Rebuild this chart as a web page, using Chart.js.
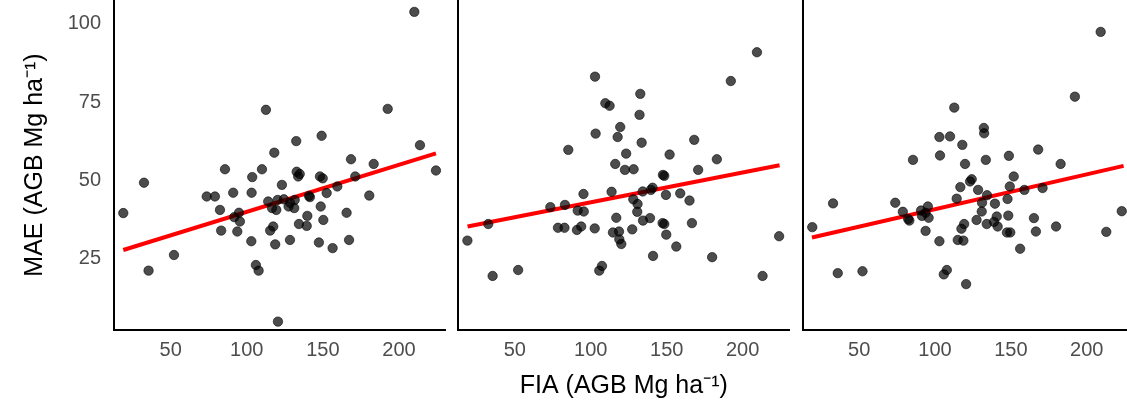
<!DOCTYPE html>
<html><head><meta charset="utf-8">
<script src="https://cdn.jsdelivr.net/npm/chart.js@4"></script>
<style>
html,body{margin:0;padding:0;background:#fff;overflow:hidden;width:1127px;height:406px;position:relative;}
canvas{position:absolute;top:0;}
</style></head><body>
<canvas id="c1" width="452" height="406" style="left:0px"></canvas>
<canvas id="c2" width="344" height="406" style="left:452px"></canvas>
<canvas id="c3" width="344" height="406" style="left:796px"></canvas>
<script>
const xTicks = [50, 100, 150, 200];
const yTicks = [25, 50, 75, 100];
const xTitle = 'FIA (AGB Mg ha\u207B\u00B9)';
const yTitle = 'MAE (AGB Mg ha\u207B\u00B9)';

const p1x = [18.9,32.5,35.5,52.2,73.7,79.1,82.4,85.7,83.2,91.1,91.8,94.9,95.5,93.8,103.2,103.6,103.0,110.0,112.6,106.0,107.8,114.1,118.1,115.4,117.4,116.6,119.4,120.3,118.7,120.5,123.1,124.4,127.5,128.4,131.5,131.2,128.4,132.5,132.8,134.8,133.8,134.3,139.4,139.8,140.9,141.5,147.4,148.6,149.2,148.1,149.9,150.3,152.5,156.4,159.5,165.6,167.2,168.5,171.3,180.5,183.4,192.6,210.1,213.8,224.3];
const p1y = [39.5,49.2,21.1,26.1,44.8,44.8,40.5,53.5,33.9,46.0,38.2,39.6,36.8,33.6,46.0,51.0,30.5,53.5,72.5,22.9,21.1,43.2,58.8,33.9,35.2,41.1,40.5,43.7,29.5,4.8,48.5,43.9,41.6,42.8,43.7,41.1,30.9,62.5,52.7,52.0,51.2,36.0,35.4,38.6,45.0,44.6,30.1,41.6,64.2,51.2,50.6,37.3,45.9,28.3,48.0,39.6,30.9,56.7,51.2,45.1,55.2,72.8,103.8,61.2,53.1];

const p2x = [18.8,32.5,35.4,52.2,73.4,78.4,82.7,83.0,85.2,90.9,93.7,91.4,95.4,95.2,102.6,102.8,103.2,105.6,107.4,109.6,112.4,113.7,114.6,116.1,116.8,117.7,118.6,118.8,120.1,119.4,122.5,123.3,127.3,128.0,128.2,130.8,130.6,132.1,132.6,133.5,134.2,134.4,139.0,139.6,140.7,141.0,147.5,148.4,147.3,148.4,149.7,149.5,151.9,156.3,158.9,165.0,166.6,168.1,170.7,179.9,183.0,192.2,209.4,213.1,224.0];
const p2y = [30.7,36.0,19.4,21.3,41.4,34.8,34.8,42.1,59.7,34.1,35.2,40.3,40.0,45.6,34.6,83.1,64.9,21.1,22.6,74.6,73.8,46.3,33.3,55.2,38.0,63.8,33.6,31.1,29.6,67.0,53.3,58.5,34.3,43.9,53.5,42.4,39.9,70.9,77.6,62.0,46.4,37.1,37.9,46.9,47.6,25.8,51.7,51.4,36.3,36.0,32.6,45.3,58.2,28.8,45.8,43.5,36.3,62.9,53.3,25.4,56.7,81.7,90.9,19.4,32.1];

const p3x = [19.1,32.8,35.9,52.2,73.8,78.8,82.3,83.1,85.5,90.8,91.4,93.8,95.3,95.8,93.8,102.9,103.3,102.9,105.8,107.8,109.9,112.7,114.3,115.0,116.7,117.4,118.0,119.2,118.7,119.8,120.5,123.1,124.2,127.4,128.4,131.0,130.8,132.2,132.4,133.5,134.1,134.3,138.9,139.5,140.7,141.3,147.4,149.6,147.8,148.3,148.7,149.3,151.9,156.1,158.9,165.2,166.5,168.0,170.9,179.8,182.8,192.2,209.2,212.9,223.1];
const p3y = [35.0,42.6,20.3,20.9,42.8,39.9,37.6,37.1,56.5,40.3,38.6,39.6,41.6,38.0,33.8,30.5,57.9,63.8,19.9,21.3,64.0,73.2,44.1,30.9,47.8,34.5,61.3,36.0,30.7,55.2,16.8,49.6,50.3,37.3,46.9,42.8,40.0,66.7,65.0,56.5,36.0,45.2,36.7,42.5,38.4,35.2,33.3,33.3,44.0,38.7,57.8,48.0,51.2,28.1,46.9,37.9,33.6,59.8,47.5,35.2,55.2,76.7,97.4,33.5,40.1];

const fitX = [18.9, 224.3];
const fit1 = [27.7, 58.6];
const fit2 = [35.2, 54.8];
const fit3 = [31.7, 54.6];

const FONT = '"Liberation Sans", Arial, Helvetica, sans-serif';

function pts(xs, ys) { return xs.map((x, i) => ({x: x, y: ys[i]})); }

function makePanel(id, xs, ys, fy, cfg) {
  new Chart(document.getElementById(id), {
    type: 'scatter',
    data: {
      datasets: [
        {
          data: pts(xs, ys),
          pointRadius: 4.7,
          pointBackgroundColor: 'rgba(0,0,0,0.7)',
          pointBorderColor: 'rgba(0,0,0,0.72)',
          pointBorderWidth: 0.8,
          showLine: false
        },
        {
          type: 'line',
          data: pts(fitX, fy),
          borderColor: '#FF0000',
          borderWidth: 4,
          pointRadius: 0,
          fill: false
        }
      ]
    },
    options: {
      responsive: false,
      animation: false,
      devicePixelRatio: 1,
      layout: { autoPadding: false, padding: { left: 0, right: cfg.rightPad, top: 0, bottom: 0 } },
      plugins: { legend: { display: false }, tooltip: { enabled: false } },
      scales: {
        x: {
          type: 'linear', min: 12.8, max: 230.7,
          grid: { display: false, drawTicks: false },
          border: { display: true, color: '#000', width: 2 },
          ticks: { color: '#4D4D4D', padding: 8, font: { family: FONT, size: 20 } },
          title: {
            display: cfg.showXTitle, text: xTitle, color: '#000',
            font: { family: FONT, size: 25 }, padding: { top: 0, bottom: 5 }
          },
          afterBuildTicks: s => { s.ticks = xTicks.map(v => ({ value: v })); },
          afterFit: s => { s.height = 76; s.paddingLeft = 0; s.paddingRight = 0; }
        },
        y: {
          type: 'linear', min: 2.13, max: 107.6,
          grid: { display: false, drawTicks: false },
          border: { display: true, color: '#000', width: 2 },
          ticks: { display: cfg.showY, color: '#4D4D4D', padding: 13, font: { family: FONT, size: 20 } },
          title: {
            display: cfg.showY, text: yTitle, color: '#000',
            font: { family: FONT, size: 25 }, padding: { top: 20, bottom: 0 }
          },
          afterBuildTicks: s => { s.ticks = yTicks.map(v => ({ value: v })); },
          afterFit: s => { s.width = cfg.leftW; s.paddingTop = 0; s.paddingBottom = 0; }
        }
      }
    }
  });
}

makePanel('c1', p1x, p1y, fit1, { leftW: 114, rightPad: 6.3, showY: true, showXTitle: false });
makePanel('c2', p2x, p2y, fit2, { leftW: 6.3, rightPad: 6.7, showY: false, showXTitle: true });
makePanel('c3', p3x, p3y, fit3, { leftW: 6.7, rightPad: 6.7, showY: false, showXTitle: false });
</script>
</body></html>
